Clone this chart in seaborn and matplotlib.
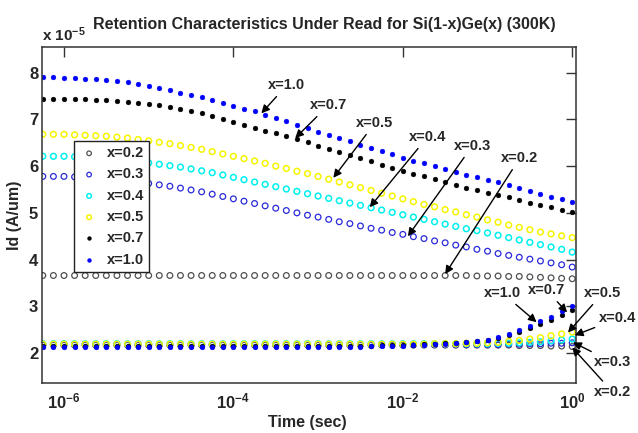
import numpy as np
import pandas as pd
import matplotlib
matplotlib.use("Agg")
import matplotlib.pyplot as plt
from matplotlib.ticker import NullLocator
import seaborn as sns

# time grid, 1/8 decade apart from 10^-6.25 s to 1 s
log_time = np.arange(-6.25, 0.0001, 0.125)
time = 10 ** log_time

comps = ["x=0.2", "x=0.3", "x=0.4", "x=0.5", "x=0.7", "x=1.0"]

# Id in units of 1e-5 A/um -- upper branch (decays with time)
id_up_02 = [3.66, 3.66,
            3.66, 3.66, 3.66, 3.66, 3.66, 3.66, 3.66, 3.66,
            3.66, 3.66, 3.66, 3.66, 3.66, 3.66, 3.66, 3.66,
            3.66, 3.66, 3.66, 3.66, 3.66, 3.66, 3.66, 3.66,
            3.66, 3.66, 3.66, 3.66, 3.66, 3.66, 3.66, 3.66,
            3.66, 3.66, 3.66, 3.66, 3.66, 3.66, 3.66, 3.65,
            3.65, 3.65, 3.64, 3.64, 3.63, 3.62, 3.61, 3.60,
            3.59]
id_up_03 = [5.78, 5.78,
            5.78, 5.77, 5.76, 5.75, 5.73, 5.71, 5.69, 5.66,
            5.63, 5.60, 5.57, 5.53, 5.49, 5.45, 5.40, 5.35,
            5.30, 5.25, 5.20, 5.15, 5.10, 5.05, 5.00, 4.95,
            4.91, 4.86, 4.81, 4.77, 4.72, 4.67, 4.63, 4.58,
            4.54, 4.49, 4.45, 4.40, 4.36, 4.31, 4.27, 4.22,
            4.18, 4.13, 4.09, 4.05, 4.01, 3.97, 3.93, 3.89,
            3.84]
id_up_04 = [6.21, 6.21,
            6.21, 6.20, 6.19, 6.18, 6.16, 6.14, 6.12, 6.10,
            6.07, 6.04, 6.01, 5.98, 5.94, 5.90, 5.86, 5.81,
            5.76, 5.71, 5.66, 5.61, 5.56, 5.51, 5.46, 5.41,
            5.36, 5.31, 5.26, 5.21, 5.16, 5.11, 5.06, 5.01,
            4.96, 4.91, 4.86, 4.81, 4.76, 4.71, 4.66, 4.62,
            4.57, 4.52, 4.47, 4.42, 4.37, 4.32, 4.27, 4.22,
            4.16]
id_up_05 = [6.68, 6.68,
            6.68, 6.67, 6.66, 6.65, 6.64, 6.62, 6.60, 6.57,
            6.54, 6.51, 6.48, 6.44, 6.40, 6.36, 6.31, 6.26,
            6.21, 6.16, 6.11, 6.06, 6.00, 5.95, 5.89, 5.84,
            5.78, 5.72, 5.66, 5.60, 5.54, 5.48, 5.42, 5.36,
            5.30, 5.24, 5.18, 5.13, 5.07, 5.02, 4.96, 4.91,
            4.85, 4.80, 4.74, 4.69, 4.64, 4.59, 4.55, 4.51,
            4.47]
id_up_07 = [7.44, 7.44,
            7.44, 7.43, 7.43, 7.42, 7.41, 7.40, 7.38, 7.36,
            7.33, 7.30, 7.27, 7.23, 7.18, 7.13, 7.07, 7.01,
            6.94, 6.88, 6.82, 6.76, 6.70, 6.64, 6.58, 6.51,
            6.44, 6.37, 6.30, 6.24, 6.17, 6.10, 6.03, 5.97,
            5.90, 5.84, 5.78, 5.72, 5.66, 5.60, 5.54, 5.49,
            5.43, 5.38, 5.33, 5.28, 5.22, 5.17, 5.12, 5.07,
            5.02]
id_up_10 = [7.90, 7.90,
            7.89, 7.88, 7.87, 7.86, 7.84, 7.82, 7.79, 7.75,
            7.71, 7.67, 7.62, 7.57, 7.52, 7.47, 7.41, 7.35,
            7.29, 7.23, 7.17, 7.10, 7.03, 6.96, 6.89, 6.81,
            6.74, 6.67, 6.60, 6.53, 6.46, 6.39, 6.32, 6.25,
            6.18, 6.12, 6.06, 6.00, 5.94, 5.88, 5.82, 5.76,
            5.71, 5.65, 5.59, 5.53, 5.47, 5.41, 5.35, 5.29,
            5.23]

# lower branch (rises near 1 s)
id_lo_02 = [2.17, 2.17,
            2.17, 2.17, 2.17, 2.17, 2.17, 2.17, 2.17, 2.17,
            2.17, 2.17, 2.17, 2.17, 2.17, 2.17, 2.17, 2.17,
            2.17, 2.17, 2.17, 2.17, 2.17, 2.17, 2.17, 2.17,
            2.17, 2.17, 2.17, 2.17, 2.17, 2.17, 2.17, 2.17,
            2.17, 2.17, 2.17, 2.17, 2.17, 2.17, 2.17, 2.17,
            2.17, 2.17, 2.17, 2.16, 2.16, 2.16, 2.15, 2.15,
            2.14]
id_lo_03 = [2.18, 2.18,
            2.18, 2.18, 2.18, 2.18, 2.18, 2.18, 2.18, 2.18,
            2.18, 2.18, 2.18, 2.18, 2.18, 2.18, 2.18, 2.18,
            2.18, 2.18, 2.18, 2.18, 2.18, 2.18, 2.18, 2.18,
            2.18, 2.18, 2.18, 2.18, 2.18, 2.18, 2.18, 2.18,
            2.18, 2.18, 2.18, 2.18, 2.18, 2.18, 2.18, 2.18,
            2.18, 2.18, 2.19, 2.19, 2.20, 2.20, 2.21, 2.21,
            2.22]
id_lo_04 = [2.20, 2.20,
            2.20, 2.20, 2.20, 2.20, 2.20, 2.20, 2.20, 2.20,
            2.20, 2.20, 2.20, 2.20, 2.20, 2.20, 2.20, 2.20,
            2.20, 2.20, 2.20, 2.20, 2.20, 2.20, 2.20, 2.20,
            2.20, 2.20, 2.20, 2.20, 2.20, 2.20, 2.20, 2.20,
            2.20, 2.20, 2.20, 2.20, 2.20, 2.20, 2.20, 2.20,
            2.20, 2.21, 2.21, 2.22, 2.23, 2.24, 2.26, 2.28,
            2.30]
id_lo_05 = [2.19, 2.19,
            2.19, 2.19, 2.19, 2.19, 2.19, 2.19, 2.19, 2.19,
            2.19, 2.19, 2.19, 2.19, 2.19, 2.19, 2.19, 2.19,
            2.19, 2.19, 2.19, 2.19, 2.19, 2.19, 2.19, 2.19,
            2.19, 2.19, 2.19, 2.19, 2.19, 2.19, 2.19, 2.19,
            2.19, 2.19, 2.19, 2.20, 2.20, 2.20, 2.21, 2.21,
            2.22, 2.23, 2.25, 2.27, 2.30, 2.33, 2.37, 2.41,
            2.45]
id_lo_07 = [2.16, 2.16,
            2.16, 2.16, 2.16, 2.16, 2.16, 2.16, 2.16, 2.16,
            2.16, 2.16, 2.16, 2.16, 2.16, 2.16, 2.16, 2.16,
            2.16, 2.16, 2.16, 2.16, 2.16, 2.16, 2.16, 2.16,
            2.16, 2.16, 2.16, 2.16, 2.16, 2.16, 2.17, 2.17,
            2.17, 2.18, 2.19, 2.20, 2.21, 2.22, 2.23, 2.25,
            2.28, 2.32, 2.38, 2.45, 2.53, 2.62, 2.71, 2.81,
            2.93]
id_lo_10 = [2.14, 2.14,
            2.14, 2.14, 2.14, 2.14, 2.14, 2.14, 2.14, 2.14,
            2.14, 2.14, 2.14, 2.14, 2.14, 2.14, 2.14, 2.14,
            2.14, 2.14, 2.14, 2.14, 2.14, 2.14, 2.14, 2.14,
            2.14, 2.14, 2.14, 2.14, 2.14, 2.15, 2.15, 2.16,
            2.16, 2.17, 2.18, 2.19, 2.20, 2.21, 2.23, 2.26,
            2.29, 2.34, 2.41, 2.49, 2.58, 2.68, 2.78, 2.89,
            3.01]

upper = [id_up_02, id_up_03, id_up_04, id_up_05, id_up_07, id_up_10]
lower = [id_lo_02, id_lo_03, id_lo_04, id_lo_05, id_lo_07, id_lo_10]

rows = []
for c, up, lo in zip(comps, upper, lower):
    for t, a, b in zip(time, up, lo):
        rows.append({"time": t, "Id": a, "comp": c})
        rows.append({"time": t, "Id": b, "comp": c})
df = pd.DataFrame(rows)

styles = {
    "x=0.2": dict(s=17, facecolors="none", edgecolor="#505050", linewidth=0.9),
    "x=0.3": dict(s=17, facecolors="none", edgecolor="#2a2ad8", linewidth=0.9),
    "x=0.4": dict(s=17, facecolors="none", edgecolor="#00f0f0", linewidth=1.1),
    "x=0.5": dict(s=17, facecolors="none", edgecolor="#f5f500", linewidth=1.1),
    "x=0.7": dict(s=12, color="black", edgecolor="black", linewidth=0.3),
    "x=1.0": dict(s=12, color="#0000ff", edgecolor="#0000ff", linewidth=0.3),
}

# annotation labels: (label, text log-time, text Id, tip log-time, tip Id)
notes_up = [("x=1.0", -3.37, 7.73, -3.67, 7.13),
            ("x=0.7", -2.88, 7.30, -3.27, 6.60),
            ("x=0.5", -2.33, 6.92, -2.82, 5.75),
            ("x=0.4", -1.71, 6.62, -2.39, 5.12),
            ("x=0.3", -1.18, 6.43, -1.94, 4.50),
            ("x=0.2", -0.62, 6.17, -1.50, 3.69)]
notes_lo = [("x=1.0", -0.82, 3.28, -0.42, 2.66),
            ("x=0.7", -0.30, 3.34, -0.06, 2.87),
            ("x=0.5", 0.36, 3.28, -0.05, 2.44),
            ("x=0.4", 0.54, 2.74, 0.03, 2.38),
            ("x=0.3", 0.48, 1.80, 0.01, 2.23),
            ("x=0.2", 0.48, 1.16, 0.00, 2.12)]

sns.set_style("white")
plt.rcParams["font.family"] = ["Liberation Sans", "DejaVu Sans"]
plt.rcParams["font.weight"] = "bold"
plt.rcParams["mathtext.fontset"] = "custom"
plt.rcParams["mathtext.rm"] = "Liberation Sans:bold"
plt.rcParams["mathtext.bf"] = "Liberation Sans:bold"
plt.rcParams["mathtext.it"] = "Liberation Sans:bold"

fig = plt.figure(figsize=(6.38, 4.33), dpi=100)
ax = fig.add_axes([0.0654, 0.1155, 0.8375, 0.775])

for c in comps:
    sns.scatterplot(data=df[df["comp"] == c], x="time", y="Id", marker="o",
                    label=c, ax=ax, **styles[c])

ax.set_xscale("log")
ax.set_xlim(5.46e-7, 1.11)
ax.set_ylim(1.36, 8.54)
ax.set_xticks([1e-6, 1e-4, 1e-2, 1])
ax.set_xticklabels([r"$\mathbf{10^{-6}}$", r"$\mathbf{10^{-4}}$",
                    r"$\mathbf{10^{-2}}$", r"$\mathbf{10^{0}}$"])
ax.xaxis.set_minor_locator(NullLocator())
ax.set_yticks(range(2, 9))
ax.tick_params(which="both", direction="in", top=True, right=True,
               length=7, width=1, color="#333333", labelsize=12)
ax.tick_params(axis="x", pad=6)
ax.tick_params(axis="y", pad=2.5)
for sp in ax.spines.values():
    sp.set_color("#333333")
    sp.set_linewidth(1.1)
ax.set_xlabel("")
ax.set_ylabel("")

arrow = dict(arrowstyle="-|>", color="black", lw=1.0, mutation_scale=12,
             shrinkA=1, shrinkB=0)
for lab, tx, ty, hx, hy in notes_up + notes_lo:
    ax.annotate(lab, xy=(10 ** hx, hy), xytext=(10 ** tx, ty),
                ha="center", va="center", fontsize=10.5, weight="bold",
                arrowprops=arrow, annotation_clip=False)

leg = ax.legend(loc="upper left", bbox_to_anchor=(0.060, 0.721),
                borderaxespad=0, fancybox=False, framealpha=1,
                edgecolor="#222222", fontsize=10.5, handlelength=1.4,
                handletextpad=0.5, labelspacing=0.5, borderpad=0.35,
                scatterpoints=1, markerscale=0.8)
leg.get_frame().set_linewidth(1.0)
for t in leg.get_texts():
    t.set_fontweight("bold")

ax.text(0.0, 1.019, r"x 10$^{\mathbf{-5}}$", transform=ax.transAxes,
        ha="left", va="baseline", fontsize=11, weight="bold")
fig.text(324.5 / 638, 1 - 24.5 / 433,
         "Retention Characteristics Under Read for Si(1-x)Ge(x) (300K)",
         ha="center", va="center", fontsize=11.5, weight="bold")
fig.text(307.5 / 638, 1 - 422 / 433, "Time (sec)", ha="center", va="center",
         fontsize=11.5, weight="bold")
fig.text(15 / 638, 1 - 215 / 433, "Id (A/um)", ha="center", va="center",
         rotation=90, fontsize=11.5, weight="bold")

fig.savefig("out.png", dpi=100)
